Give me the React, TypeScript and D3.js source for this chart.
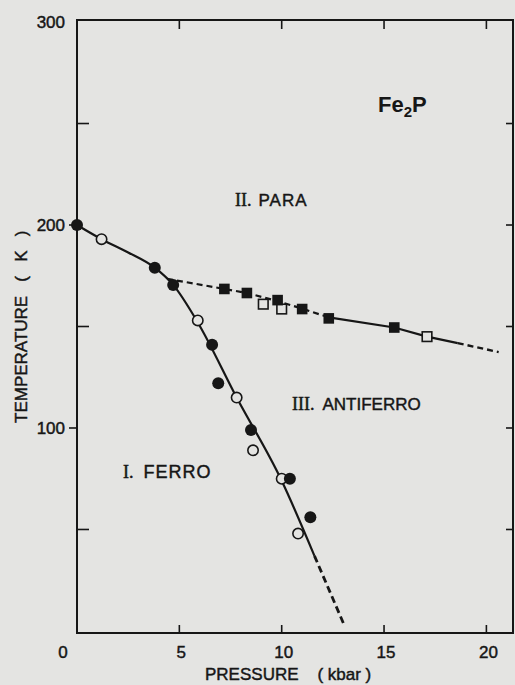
import React from "react";
import * as d3 from "d3";

// Measured points (pressure kbar, temperature K)
const ferroFilledP = [0, 3.8, 4.7, 6.6, 6.9, 8.5, 10.4, 11.4];
const ferroFilledT = [200, 179, 170.5, 141, 122, 99, 75, 56];
const ferroOpenP = [1.2, 5.9, 7.8, 8.6, 10.0, 10.8];
const ferroOpenT = [193, 153, 115, 89, 75, 48];
const afFilledP = [7.2, 8.3, 9.8, 11.0, 12.3, 15.5];
const afFilledT = [168.5, 166.5, 163, 158.6, 154, 149.5];
const afOpenP = [9.1, 10.0, 17.1];
const afOpenT = [161, 158.6, 145];

// Phase boundary curves
const ferroLineP = [0, 1.2, 2.5, 3.8, 4.7, 5.9, 7.8, 10.0, 11.6];
const ferroLineT = [200, 193, 186.5, 179, 170.5, 152, 115, 74, 37];
const ferroExtP = [11.6, 13.05];
const ferroExtT = [37, 3];
const afDashP = [4.4, 7.2, 8.3, 9.8, 11.0, 12.3];
const afDashT = [173.5, 168.5, 166.5, 162.5, 158.8, 154.5];
const afSolidP = [12.3, 15.5, 17.1, 18.6];
const afSolidT = [154.5, 149.5, 145, 141.8];
const afEndP = [18.6, 20.6];
const afEndT = [141.8, 137.4];

const xTicks = [0, 5, 10, 15, 20];
const xTickLabels = ["0", "5", "10", "15", "20"];
const yTicks = [100, 200, 300];
const yTickLabels = ["100", "200", "300"];
const yMinorTicks = [50, 150, 250];
const yRightTicks = [50, 100, 150, 200, 250];

const BG = "#e4e4e2";
const INK = "#161616";
const SANS = "'Liberation Sans', Arial, Helvetica, sans-serif";
const SERIF = "'Liberation Serif', 'Times New Roman', serif";
const TXT = { stroke: INK, strokeWidth: 0.45 };

const zip = (a: number[], b: number[]) => a.map((v, i) => [v, b[i]] as [number, number]);

export default function App() {
  const x = d3.scaleLinear().domain([0, 21.3]).range([77, 513]);
  const y = d3.scaleLinear().domain([-1, 301]).range([633, 20]);
  const line = d3
    .line<[number, number]>()
    .x((d) => x(d[0]))
    .y((d) => y(d[1]));
  const curve = d3
    .line<[number, number]>()
    .x((d) => x(d[0]))
    .y((d) => y(d[1]))
    .curve(d3.curveMonotoneX);

  const x0 = x(0), x1 = x(21.3), yTop = y(301), yBot = y(-1);

  return (
    <div style={{ position: "absolute", left: 0, top: 0 }}>
      <svg width={515} height={685} style={{ display: "block", background: BG }}>
        <rect x={0} y={0} width={515} height={685} fill={BG} />
        {/* frame */}
        <rect x={x0} y={yTop} width={x1 - x0} height={yBot - yTop} fill="none" stroke={INK} strokeWidth={2} />
        {/* ticks */}
        {xTicks.filter((v) => v > 0).map((v) => (
          <g key={"xt" + v}>
            <line x1={x(v)} x2={x(v)} y1={yBot} y2={yBot - 8} stroke={INK} strokeWidth={1.6} />
            <line x1={x(v)} x2={x(v)} y1={yTop} y2={yTop + 9} stroke={INK} strokeWidth={1.6} />
          </g>
        ))}
        {yMinorTicks.map((v) => (
          <line key={"ym" + v} x1={x0} x2={x0 + 12} y1={y(v)} y2={y(v)} stroke={INK} strokeWidth={1.6} />
        ))}
        {yTicks.filter((v) => v < 300).map((v) => (
          <line key={"yM" + v} x1={x0 - 8} x2={x0} y1={y(v)} y2={y(v)} stroke={INK} strokeWidth={1.6} />
        ))}
        {yRightTicks.map((v) => (
          <line key={"yr" + v} x1={x1 - 7} x2={x1} y1={y(v)} y2={y(v)} stroke={INK} strokeWidth={1.6} />
        ))}
        {/* tick labels */}
        {xTicks.map((v, i) => (
          <text key={"xl" + v} x={v === 0 ? x(v) - 14 : x(v) + 2} y={658} fontSize={17} fontFamily={SANS} fill={INK} {...TXT} textAnchor="middle">
            {xTickLabels[i]}
          </text>
        ))}
        {yTicks.map((v, i) => (
          <text key={"yl" + v} x={65} y={y(v) + 6} fontSize={17} fontFamily={SANS} fill={INK} {...TXT} textAnchor="end">
            {yTickLabels[i]}
          </text>
        ))}
        {/* axis titles */}
        <text x={205} y={680} fontSize={17} fontFamily={SANS} fill={INK} {...TXT} style={{ whiteSpace: "pre" }}>
          {"PRESSURE    ( kbar )"}
        </text>
        <text
          transform="translate(27,423) rotate(-90)"
          x={0}
          y={0}
          fontSize={17}
          fontFamily={SANS}
          fill={INK}
          {...TXT}
          style={{ whiteSpace: "pre" }}
        >
          {"TEMPERATURE   (   K   )"}
        </text>

        {/* boundary lines */}
        <path d={curve(zip(ferroLineP, ferroLineT)) || ""} fill="none" stroke={INK} strokeWidth={2.2} />
        <path d={line(zip(ferroExtP, ferroExtT)) || ""} fill="none" stroke={INK} strokeWidth={2.8} strokeDasharray="7,4" />
        <path d={line(zip(afDashP, afDashT)) || ""} fill="none" stroke={INK} strokeWidth={2.2} strokeDasharray="6,4" />
        <path d={line(zip(afSolidP, afSolidT)) || ""} fill="none" stroke={INK} strokeWidth={2.2} />
        <path d={line(zip(afEndP, afEndT)) || ""} fill="none" stroke={INK} strokeWidth={2.4} strokeDasharray="6,4" />

        {/* markers */}
        {zip(ferroOpenP, ferroOpenT).map((d, i) => (
          <circle key={"fo" + i} cx={x(d[0])} cy={y(d[1])} r={5.2} fill={BG} stroke={INK} strokeWidth={1.6} />
        ))}
        {zip(ferroFilledP, ferroFilledT).map((d, i) => (
          <circle key={"ff" + i} cx={x(d[0])} cy={y(d[1])} r={6} fill={INK} />
        ))}
        {zip(afOpenP, afOpenT).map((d, i) => (
          <rect key={"ao" + i} x={x(d[0]) - 4.8} y={y(d[1]) - 4.8} width={9.6} height={9.6} fill={BG} stroke={INK} strokeWidth={1.6} />
        ))}
        {zip(afFilledP, afFilledT).map((d, i) => (
          <rect key={"af" + i} x={x(d[0]) - 5.3} y={y(d[1]) - 5.3} width={10.6} height={10.6} fill={INK} />
        ))}

        {/* region labels */}
        <text x={378} y={112} fontSize={22} fontWeight="bold" fontFamily={SANS} fill={INK}>
          Fe<tspan dy={5} fontSize={15}>2</tspan>
          <tspan dy={-5}>P</tspan>
        </text>
        <text x={235} y={206} fontSize={17} fill={INK} {...TXT}>
          <tspan fontFamily={SERIF} fontSize={18}>II.</tspan>
          <tspan fontFamily={SANS} dx={7} letterSpacing={1}>PARA</tspan>
        </text>
        <text x={292} y={410} fontSize={17} fill={INK} {...TXT}>
          <tspan fontFamily={SERIF} fontSize={18}>III.</tspan>
          <tspan fontFamily={SANS} dx={8}>ANTIFERRO</tspan>
        </text>
        <text x={123} y={478} fontSize={18} fill={INK} {...TXT}>
          <tspan fontFamily={SERIF}>I.</tspan>
          <tspan fontFamily={SANS} dx={10} letterSpacing={1}>FERRO</tspan>
        </text>
      </svg>
    </div>
  );
}
